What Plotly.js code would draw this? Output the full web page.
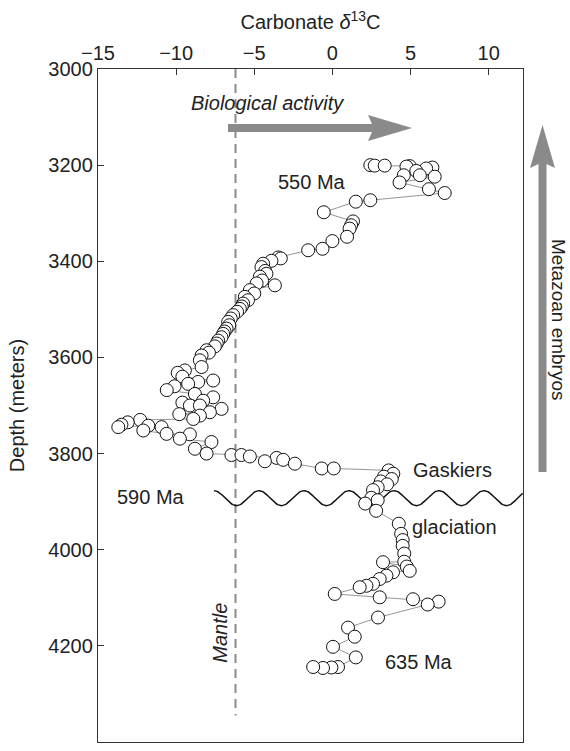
<!DOCTYPE html>
<html><head><meta charset="utf-8">
<script src="https://cdn.plot.ly/plotly-3.0.1.min.js"></script>
<style>html,body{margin:0;padding:0;background:#fff}</style>
</head><body><div id="chart" style="width:570px;height:751px"></div>
<script>
// Depth (m) and carbonate d13C (permil)
const depth = [3200,3201,3201,3202,3203,3205,3207,3212,3221,3221,3224,3236,3250,3258,3273,3276,3298,3317,3325,3332,3349,3358,3374,3377,
 3392,3394,3399,3405,3412,3420,3426,3432,3440,3446,3450,3460,3467,3474,3481,3488,3494,3499,3505,3512,3519,3526,3533,3540,3546,3551,3558,3565,3571,3577,
 3585,3590,3596,3606,3620,3627,3632,3640,3648,3651,3655,3660,3668,3676,3683,3690,3694,3700,3700,3707,3714,3718,3721,3728,
 3730,3735,3740,3745,3742,3745,3752,3759,3760,3769,3776,3790,3800,3803,3803,3806,3809,3813,3816,3821,3831,3831,
 3835,3842,3848,3853,3858,3864,3870,3876,3892,3897,3904,3919,3946,3967,3980,3992,4008,4025,4026,4035,4044,4047,4054,4061,4071,4075,4078,
 4092,4099,4103,4108,4114,4141,4162,4181,4202,4224,4244,4245,4246,4244];
const d13C = [2.43,2.71,3.35,4.95,4.74,6.4,6.0,5.37,4.57,5.6,6.55,4.3,6.18,7.19,2.43,1.5,-0.55,1.32,1.2,1.1,0.94,0.0,-0.63,-1.55,
 -3.47,-3.3,-3.9,-4.43,-4.54,-4.3,-4.22,-4.64,-4.5,-4.85,-3.68,-5.28,-5.0,-5.6,-5.4,-5.71,-5.8,-5.92,-6.1,-6.35,-6.5,-6.67,-6.6,-6.77,-6.9,-6.99,-7.1,-7.31,-7.4,-7.52,
 -8.05,-7.9,-8.37,-8.48,-8.37,-9.44,-9.9,-9.6,-7.63,-8.59,-9.23,-10.1,-10.6,-8.8,-7.63,-8.27,-9.6,-9.12,-8.48,-7.09,-7.84,-9.8,-8.48,-8.9,
 -12.3,-13.1,-13.5,-13.7,-11.78,-10.93,-12.1,-10.61,-9.12,-9.76,-7.74,-8.8,-8.05,-6.46,-5.82,-5.28,-3.57,-3.15,-4.32,-2.4,-0.68,0.09,
 3.6,3.9,3.3,3.8,3.1,3.5,2.9,2.6,2.5,2.9,2.1,2.8,4.25,4.4,4.5,4.5,4.6,4.6,3.24,4.76,4.95,3.88,3.46,3.03,2.6,2.18,1.75,
 0.15,3.03,5.16,6.8,6.1,2.92,1.0,1.43,0.04,1.5,0.36,-0.06,-0.6,-1.23];

const xTickVals = [-15,-10,-5,0,5,10];
const yTickVals = [3000,3200,3400,3600,3800,4000,4200,4400];
const xRange = [-15, 12.2];
const yRange = [4400, 3000];
const mantleValue = -6.2;
const mantleDepthEnd = 4345;
const unconformityDepth = 3892.7;

// plot-area geometry helpers (pixels -> paper) for decorative arrows
const W = 570, H = 751, L = 98, R = 47, T = 69, B = 9;
const pw = W - L - R, ph = H - T - B;
function P(px, py){ return ((px - L)/pw).toFixed(4) + ',' + ((H - B - py)/ph).toFixed(4); }

// wavy unconformity symbol (decoration)
const waveX = [], waveY = [];
const wStart = -7.58, wLen = 2.88, wAmp = 15.6;
for (let x = wStart; x <= xRange[1] + 0.001; x += 0.04) {
  waveX.push(x);
  waveY.push(unconformityDepth - wAmp*Math.cos(2*Math.PI*(x - wStart)/wLen));
}

const font = "'Liberation Sans', Arial, Helvetica, sans-serif";
const txt = '#222';

const traces = [
  {x:[mantleValue, mantleValue], y:[3000, mantleDepthEnd], mode:'lines', type:'scatter',
   line:{color:'#8a8a8a', width:2, dash:'9px,6px'}, hoverinfo:'skip', showlegend:false},
  {x:waveX, y:waveY, mode:'lines', type:'scatter', line:{color:'#111', width:1.5}, hoverinfo:'skip', showlegend:false},
  {x:d13C, y:depth, mode:'lines+markers', type:'scatter', showlegend:false,
   line:{color:'#7a7a7a', width:0.8},
   marker:{size:13, color:'#fff', line:{color:'#111', width:1}}}
];

const gray = '#8a8a8a';
const shapes = [
  // horizontal "Biological activity" arrow
  {type:'path', xref:'paper', yref:'paper', fillcolor:gray, line:{width:0},
   path:'M'+P(228,124)+'L'+P(372,124)+'L'+P(368,115)+'L'+P(412,128)+'L'+P(368,141)+'L'+P(372,132)+'L'+P(228,132)+'Z'},
  // vertical "Metazoan embryos" arrow
  {type:'path', xref:'paper', yref:'paper', fillcolor:gray, line:{width:0},
   path:'M'+P(538.5,472)+'L'+P(538.5,164)+'L'+P(530,168)+'L'+P(542.5,125)+'L'+P(555,168)+'L'+P(546.5,164)+'L'+P(546.5,472)+'Z'}
];

const ann = (text, x, y, opts) => Object.assign({text, x, y, xref:'x', yref:'y', showarrow:false,
  font:{family:font, size:20, color:txt}}, opts||{});

const annotations = [
  ann('550 Ma', -1.32, 3235, {xanchor:'center'}),
  ann('590 Ma', -13.9, 3890, {xanchor:'left'}),
  ann('Gaskiers', 5.0, 3834, {xanchor:'left'}),
  ann('glaciation', 4.95, 3953, {xanchor:'left'}),
  ann('635 Ma', 3.22, 4234, {xanchor:'left'}),
  ann('<i>Mantle</i>', -7.2, 4173, {textangle:-90, xanchor:'center'}),
  ann('<i>Biological activity</i>', -4.13, 3071, {xanchor:'center'}),
  {text:'Metazoan embryos', xref:'paper', yref:'y', x:(558-L)/pw, y:3522, showarrow:false, textangle:90,
   xanchor:'center', yanchor:'middle', borderpad:0, font:{family:font, size:19, color:txt}}
];

const layout = {
  width: W, height: H,
  margin:{l:L, r:R, t:T, b:B, pad:0},
  paper_bgcolor:'#fff', plot_bgcolor:'#fff',
  font:{family:font, size:20, color:txt},
  showlegend:false,
  xaxis:{side:'top', range:xRange, tickvals:xTickVals, ticks:'inside', ticklen:6, tickcolor:'#333',
    showgrid:false, zeroline:false, showline:true, linecolor:'#333', linewidth:1.2, mirror:true,
    tickfont:{family:font, size:20, color:txt},
    title:{text:'Carbonate <i>δ</i><sup>13</sup>C', font:{family:font, size:20, color:txt}, standoff:6}},
  yaxis:{range:yRange, tickvals:yTickVals, ticks:'inside', ticklen:6, tickcolor:'#333',
    showgrid:false, zeroline:false, showline:true, linecolor:'#333', linewidth:1.2, mirror:true,
    tickfont:{family:font, size:20, color:txt},
    title:{text:'Depth (meters)', font:{family:font, size:20, color:txt}, standoff:18}},
  shapes, annotations
};

Plotly.newPlot('chart', traces, layout, {displayModeBar:false, staticPlot:true});
</script></body></html>
